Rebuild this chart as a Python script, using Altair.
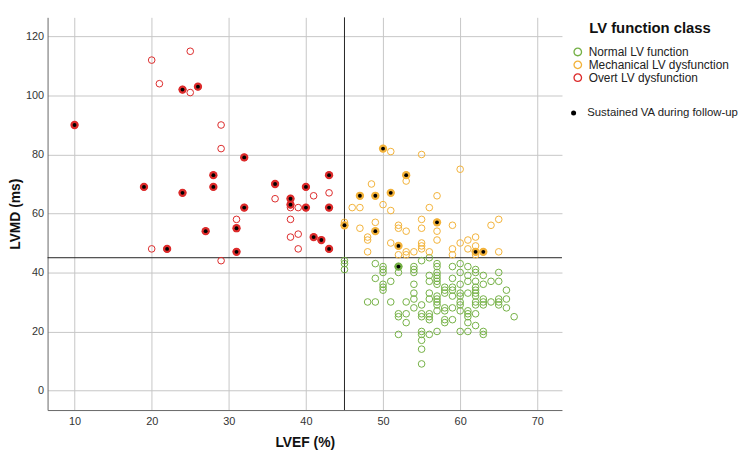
import altair as alt
import pandas as pd

classes = ["Normal LV function", "Mechanical LV dysfunction", "Overt LV dysfunction"]
class_colors = ["#74b045", "#f2b23a", "#dc2b2b"]
va_label = "Sustained VA during follow-up"

x_ticks = [10, 20, 30, 40, 50, 60, 70]
y_ticks = [0, 20, 40, 60, 80, 100, 120]
ref_lvef = [45]
ref_lvmd = [45]

# Overt LV dysfunction (red)
overt_lvef = [10, 24, 26, 32, 19, 24, 28, 28, 32, 36, 38, 38, 40, 40, 43, 43, 27, 22, 31, 31, 41, 42, 43,
              20, 21, 25, 25, 29, 29, 36, 38, 39, 41, 43, 31, 38, 38, 39, 39, 20, 29]
overt_lvmd = [90, 102, 103, 79, 69, 67, 73, 69, 62, 70, 65, 63, 69, 62, 73, 62, 54, 48, 55, 47, 52, 51, 48,
              112, 104, 115, 101, 90, 82, 65, 62, 62, 66, 67, 58, 58, 52, 53, 48, 48, 44]
overt_va = [1] * 23 + [0] * 18

# Mechanical LV dysfunction (orange)
mech_lvef = [50, 53, 47, 49, 51, 57, 45, 49, 52, 62, 63,
             51, 55, 60, 53, 48.5, 50, 51, 46, 47, 57, 56, 55, 57, 57, 55, 59, 45, 49, 47, 48, 48, 48,
             52, 52, 53, 51, 52, 53, 53, 54, 55, 55, 55, 56, 59, 59, 65, 64, 60, 61, 62, 61, 62, 62, 65]
mech_lvmd = [82, 73, 66, 66, 67, 57, 56, 54, 49, 47, 47,
             81, 80, 75, 71, 70, 63, 61, 62, 62, 66, 62, 58, 54, 51, 55, 56, 57, 57, 55, 52, 51, 47,
             56, 55, 54, 50, 46, 47, 46, 47, 50, 49, 48, 47, 48, 46, 58, 56, 50, 51, 52, 48, 49, 46, 47]
mech_va = [1] * 11 + [0] * 45

# Normal LV function (green)
normal_lvef = [45, 45, 45, 49, 49, 49, 48, 50, 50, 50, 50, 50, 50, 51, 51,
               52, 52, 52, 52, 52, 53, 53, 53, 54, 54, 54, 54, 54, 54, 54,
               55, 55, 55, 55, 55, 55, 55, 55, 55,
               56, 56, 56, 56, 56, 56, 56, 56, 56,
               57, 57, 57, 57, 57, 57, 57, 57, 57, 57, 57, 57, 57,
               58, 58, 58, 58, 58, 58, 58, 59, 59, 59, 59, 59, 59, 59,
               60, 60, 60, 60, 60, 60, 60, 60, 60,
               61, 61, 61, 61, 61, 61, 61, 61, 61,
               62, 62, 62, 62, 62, 62, 62, 62, 62, 62, 62,
               63, 63, 63, 63, 63, 63, 63, 64, 64, 65, 65, 65, 65, 65, 66, 66, 66, 67]
normal_lvmd = [44, 43, 41, 43, 38, 30, 30, 42, 41, 40, 36, 35, 34, 37, 30,
               42, 40, 26, 25, 19, 30, 26, 23, 42, 41, 40, 36, 33, 31, 28,
               44, 29, 26, 25, 20, 19, 17, 14, 9,
               45, 39, 37, 33, 31, 26, 25, 24, 19,
               43, 42, 40, 39, 38, 37, 36, 32, 31, 30, 29, 27, 20,
               35, 34, 33, 28, 27, 24, 23, 42, 38, 35, 34, 32, 28, 24,
               43, 40, 36, 33, 32, 30, 29, 27, 20,
               42, 39, 37, 33, 27, 26, 25, 23, 20,
               41, 40, 37, 35, 34, 33, 32, 30, 29, 26, 22,
               39, 36, 31, 30, 29, 20, 19, 37, 30, 40, 37, 31, 30, 29, 34, 31, 28, 25]
normal_va = [0] * len(normal_lvef)
normal_va[15] = 1  # (52, 42)

rows = []
for cls, xs, ys, vas in [(classes[0], normal_lvef, normal_lvmd, normal_va),
                         (classes[1], mech_lvef, mech_lvmd, mech_va),
                         (classes[2], overt_lvef, overt_lvmd, overt_va)]:
    for x, y, v in zip(xs, ys, vas):
        rows.append({"LVEF": x, "LVMD": y, "cls": cls, "cls_va": cls,
                     "va": va_label if v else "none"})
df = pd.DataFrame(rows)
df_va = df[df["va"] == va_label]

FONT = "Liberation Sans"
x_scale = alt.Scale(domain=[6.5, 73.2], nice=False, zero=False)
y_scale = alt.Scale(domain=[-6.65, 126.5], nice=False, zero=False)
x_axis = alt.Axis(values=x_ticks, title="LVEF (%)", labelPadding=6, titlePadding=9)
y_axis = alt.Axis(values=y_ticks, title="LVMD (ms)", labelPadding=4, titlePadding=3)

X = alt.X("LVEF:Q", scale=x_scale, axis=x_axis, title="LVEF (%)")
Y = alt.Y("LVMD:Q", scale=y_scale, axis=y_axis, title="LVMD (ms)")

vrule = alt.Chart(pd.DataFrame({"LVEF": ref_lvef})).mark_rule(color="#222222", strokeWidth=1).encode(x=X)
hrule = alt.Chart(pd.DataFrame({"LVMD": ref_lvmd})).mark_rule(color="#222222", strokeWidth=1).encode(y=Y)

# ring-shaped legend symbol (outer radius 1, inner radius 0.7, opposite winding -> hole)
RING = ("M1,0 A1,1 0 1,1 -1,0 A1,1 0 1,1 1,0 Z "
        "M0.7,0 A0.7,0.7 0 1,0 -0.7,0 A0.7,0.7 0 1,0 0.7,0 Z")

open_pts = alt.Chart(df).mark_point(filled=False, size=45, strokeWidth=1, opacity=1).encode(
    x=X, y=Y,
    color=alt.Color("cls:N", scale=alt.Scale(domain=classes, range=class_colors),
                    legend=alt.Legend(title="LV function class", orient="none", legendX=530, legendY=4,
                                      titleAnchor="middle", titleFontSize=15, titleFont=FONT,
                                      titleFontWeight="bold", titleColor="#111", titlePadding=10,
                                      labelFont=FONT, labelFontSize=12, labelColor="#222",
                                      symbolType=RING, symbolSize=80, symbolStrokeWidth=0,
                                      rowPadding=1, labelOffset=5)),
)

va_disc = alt.Chart(df_va).mark_circle(size=70, opacity=1).encode(
    x=X, y=Y,
    fill=alt.Fill("cls_va:N", scale=alt.Scale(domain=classes, range=class_colors), legend=None),
)

va_dot = alt.Chart(df_va).mark_point(filled=True, color="black", size=15, opacity=1).encode(
    x=X, y=Y,
    shape=alt.Shape("va:N", scale=alt.Scale(domain=[va_label], range=["circle"]),
                    legend=alt.Legend(title=None, orient="none", legendX=526, legendY=91,
                                      labelFont=FONT, labelFontSize=11.5, labelColor="#222",
                                      symbolSize=26, symbolFillColor="black", symbolStrokeColor="black",
                                      labelOffset=8)),
)

chart = alt.layer(vrule, hrule, open_pts, va_disc, va_dot).properties(
    width=520, height=397,
    autosize=alt.AutoSizeParams(type="none"),
    padding={"left": 40, "top": 7, "right": 182, "bottom": 45},
).configure_view(stroke=None).configure_axis(
    grid=True, gridColor="#c6c6c6", gridWidth=1, domainColor="#666666", domainWidth=1,
    ticks=False, labelFont=FONT, labelFontSize=11, labelColor="#333333",
    titleFont=FONT, titleFontSize=14, titleFontWeight="bold", titleColor="#111111",
)

chart.save("out.html", embed_options={"renderer": "svg", "actions": False})
